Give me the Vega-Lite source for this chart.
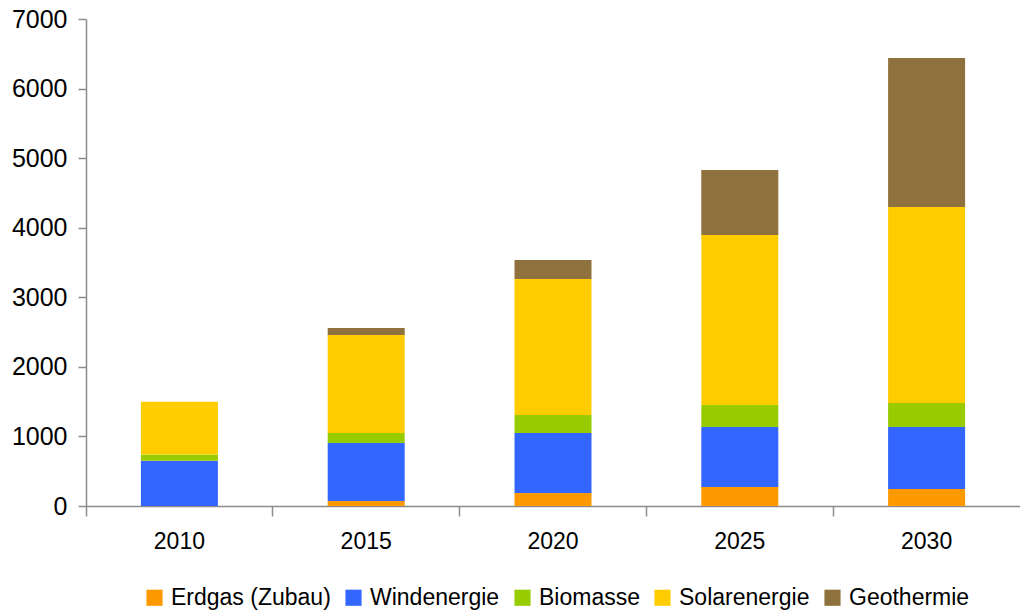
{
  "$schema": "https://vega.github.io/schema/vega-lite/v6.json",
  "autosize": "none",
  "width": 934,
  "height": 487,
  "padding": {"left": 86, "top": 19, "right": 0, "bottom": 106},
  "background": "white",
  "config": {
    "view": {"stroke": null},
    "font": "Liberation Sans",
    "axis": {"grid": false, "domainColor": "#8c8c8c", "tickColor": "#8c8c8c", "domainWidth": 1.5, "tickWidth": 1.5, "labelColor": "#000000", "labelFont": "Liberation Sans", "labelFontSize": 23, "title": null}
  },
  "data": {
    "values": [
      {"Jahr": "2010", "Quelle": "Erdgas (Zubau)", "Wert": 0},
      {"Jahr": "2010", "Quelle": "Windenergie", "Wert": 650},
      {"Jahr": "2010", "Quelle": "Biomasse", "Wert": 90},
      {"Jahr": "2010", "Quelle": "Solarenergie", "Wert": 760},
      {"Jahr": "2010", "Quelle": "Geothermie", "Wert": 0},
      {"Jahr": "2015", "Quelle": "Erdgas (Zubau)", "Wert": 72},
      {"Jahr": "2015", "Quelle": "Windenergie", "Wert": 834},
      {"Jahr": "2015", "Quelle": "Biomasse", "Wert": 143},
      {"Jahr": "2015", "Quelle": "Solarenergie", "Wert": 1409},
      {"Jahr": "2015", "Quelle": "Geothermie", "Wert": 100},
      {"Jahr": "2020", "Quelle": "Erdgas (Zubau)", "Wert": 187},
      {"Jahr": "2020", "Quelle": "Windenergie", "Wert": 862},
      {"Jahr": "2020", "Quelle": "Biomasse", "Wert": 259},
      {"Jahr": "2020", "Quelle": "Solarenergie", "Wert": 1955},
      {"Jahr": "2020", "Quelle": "Geothermie", "Wert": 273},
      {"Jahr": "2025", "Quelle": "Erdgas (Zubau)", "Wert": 273},
      {"Jahr": "2025", "Quelle": "Windenergie", "Wert": 863},
      {"Jahr": "2025", "Quelle": "Biomasse", "Wert": 316},
      {"Jahr": "2025", "Quelle": "Solarenergie", "Wert": 2443},
      {"Jahr": "2025", "Quelle": "Geothermie", "Wert": 935},
      {"Jahr": "2030", "Quelle": "Erdgas (Zubau)", "Wert": 244},
      {"Jahr": "2030", "Quelle": "Windenergie", "Wert": 892},
      {"Jahr": "2030", "Quelle": "Biomasse", "Wert": 345},
      {"Jahr": "2030", "Quelle": "Solarenergie", "Wert": 2817},
      {"Jahr": "2030", "Quelle": "Geothermie", "Wert": 2142}
    ]
  },
  "transform": [
    {"calculate": "indexof(['Erdgas (Zubau)','Windenergie','Biomasse','Solarenergie','Geothermie'], datum.Quelle)", "as": "Reihenfolge"}
  ],
  "mark": {"type": "bar", "size": 77},
  "encoding": {
    "x": {
      "field": "Jahr", "type": "nominal",
      "scale": {"paddingInner": 0, "paddingOuter": 0},
      "axis": {"labelAngle": 0, "bandPosition": 0, "tickSize": 10, "labelPadding": 14}
    },
    "y": {
      "field": "Wert", "type": "quantitative", "stack": "zero",
      "scale": {"domain": [0, 7000], "nice": false},
      "axis": {"values": [0, 1000, 2000, 3000, 4000, 5000, 6000, 7000], "format": "d", "tickSize": 8, "labelPadding": 11, "labelFontSize": 25}
    },
    "order": {"field": "Reihenfolge", "type": "quantitative", "sort": "ascending"},
    "color": {
      "field": "Quelle", "type": "nominal",
      "sort": ["Erdgas (Zubau)", "Windenergie", "Biomasse", "Solarenergie", "Geothermie"],
      "scale": {
        "domain": ["Erdgas (Zubau)", "Windenergie", "Biomasse", "Solarenergie", "Geothermie"],
        "range": ["#FF9900", "#3366FF", "#99CC00", "#FFCC00", "#8E713C"]
      },
      "legend": {
        "orient": "none", "legendX": 57, "legendY": 567, "direction": "horizontal", "title": null,
        "symbolType": "square", "symbolSize": 260, "symbolStrokeWidth": 0,
        "labelFontSize": 23, "labelFont": "Liberation Sans", "labelColor": "#000000",
        "labelOffset": 5, "columnPadding": 11
      }
    }
  }
}
